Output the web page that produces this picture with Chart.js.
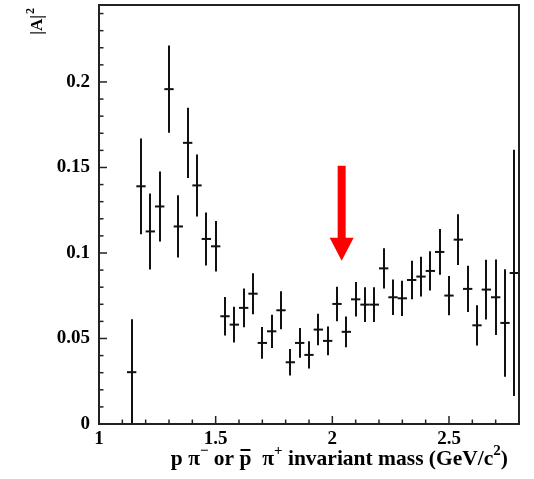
<!DOCTYPE html>
<html>
<head>
<meta charset="utf-8">
<title>|A|^2 vs p pi invariant mass</title>
<script src="https://cdn.jsdelivr.net/npm/chart.js@4.4.1/dist/chart.umd.min.js"></script>
<style>
  html, body { margin: 0; padding: 0; background: #fff; }
  canvas { display: block; }
</style>
</head>
<body>
<canvas id="chart" width="534" height="479"></canvas>
<script>
// bin centres (GeV/c^2), bin half width
const massBins = [1.14, 1.18, 1.22, 1.26, 1.30, 1.34, 1.38, 1.42, 1.46, 1.50,
                  1.54, 1.58, 1.62, 1.66, 1.70, 1.74, 1.78, 1.82, 1.86, 1.90,
                  1.94, 1.98, 2.02, 2.06, 2.10, 2.14, 2.18, 2.22, 2.26, 2.30,
                  2.34, 2.38, 2.42, 2.46, 2.50, 2.54, 2.58, 2.62, 2.66, 2.70,
                  2.74, 2.78];
const binHalfWidth = 0.02;

// |A|^2 and its error
const amp2 = [0.0303, 0.139, 0.1126, 0.1272, 0.1958, 0.1155, 0.1644, 0.1395, 0.1082, 0.1039,
              0.063, 0.0581, 0.0679, 0.0762, 0.0474, 0.0542, 0.0665, 0.0361, 0.0474, 0.0404,
              0.0552, 0.0486, 0.0702, 0.0539, 0.0729, 0.0698, 0.0698, 0.091, 0.0741, 0.0735,
              0.0842, 0.0862, 0.0895, 0.1006, 0.0751, 0.1078, 0.079, 0.0577, 0.0786, 0.0741,
              0.0591, 0.0883];
const amp2Err = [0.031, 0.028, 0.0222, 0.0205, 0.0255, 0.0182, 0.0205, 0.0181, 0.0155, 0.0148,
                 0.0112, 0.0105, 0.0114, 0.012, 0.0093, 0.0097, 0.0111, 0.0078, 0.0087, 0.008,
                 0.0092, 0.0084, 0.0101, 0.009, 0.0101, 0.0101, 0.0101, 0.0117, 0.0104, 0.0103,
                 0.0113, 0.0116, 0.0115, 0.0134, 0.0115, 0.0148, 0.0135, 0.0118, 0.0175, 0.0221,
                 0.0314, 0.072];

// axis ranges and labelled ticks
const xRange = [1, 2.8];
const yRange = [0, 0.245];
const xTickLabels = ['1', '1.5', '2', '2.5'];
const yTickLabels = ['0', '0.05', '0.1', '0.15', '0.2'];

// red arrow annotation
const arrowMass = 2.04;
const arrowFrom = 0.151;
const arrowTo = 0.0955;

const SERIF = '"Liberation Serif", "Times New Roman", serif';
const INK = '#111';

function fmtLabel(v, labels) {
    const s = String(Math.round(v * 1000) / 1000);
    return labels.includes(s) ? s : '';
}

// vertical error bars
const errorBarPlugin = {
    id: 'errorBars',
    beforeDatasetsDraw(chart) {
        const { ctx, chartArea, scales: { x, y } } = chart;
        ctx.save();
        ctx.beginPath();
        ctx.rect(chartArea.left, chartArea.top, chartArea.right - chartArea.left, chartArea.bottom - chartArea.top);
        ctx.clip();
        ctx.strokeStyle = INK;
        ctx.lineWidth = 2;
        massBins.forEach((m, i) => {
            const px = Math.round(x.getPixelForValue(m));
            ctx.beginPath();
            ctx.moveTo(px, y.getPixelForValue(amp2[i] + amp2Err[i]));
            ctx.lineTo(px, y.getPixelForValue(amp2[i] - amp2Err[i]));
            ctx.stroke();
        });
        ctx.restore();
    }
};

// frame, inward ticks, arrow and axis titles
const framePlugin = {
    id: 'frame',
    afterDatasetsDraw(chart) {
        const { ctx, chartArea: a, scales: { x, y } } = chart;
        ctx.save();
        ctx.strokeStyle = '#222';
        ctx.lineWidth = 1.5;
        x.ticks.forEach(t => {
            const px = x.getPixelForValue(t.value);
            const len = t.label ? 8 : 4.5;
            ctx.beginPath();
            ctx.moveTo(px, a.bottom);
            ctx.lineTo(px, a.bottom - len);
            ctx.stroke();
        });
        y.ticks.forEach(t => {
            const py = y.getPixelForValue(t.value);
            const len = t.label ? 8 : 4.5;
            ctx.beginPath();
            ctx.moveTo(a.left, py);
            ctx.lineTo(a.left + len, py);
            ctx.stroke();
        });
        ctx.lineWidth = 2;
        ctx.strokeRect(a.left, a.top, a.right - a.left, a.bottom - a.top);

        // arrow
        const ax = x.getPixelForValue(arrowMass);
        const aTop = y.getPixelForValue(arrowFrom);
        const aTip = y.getPixelForValue(arrowTo);
        const headLen = 23, headHalf = 12, shaftHalf = 4;
        ctx.fillStyle = '#ff0000';
        ctx.fillRect(ax - shaftHalf, aTop, shaftHalf * 2, aTip - headLen - aTop + 1);
        ctx.beginPath();
        ctx.moveTo(ax - headHalf, aTip - headLen);
        ctx.lineTo(ax + headHalf, aTip - headLen);
        ctx.lineTo(ax, aTip);
        ctx.closePath();
        ctx.fill();

        // x title with superscripts
        const bigFont = 'bold 21.5px ' + SERIF;
        const supFont = 'bold 15px ' + SERIF;
        const parts = [
            { t: 'p \u03c0', sup: false },
            { t: '\u2212', sup: true },
            { t: ' or ', sup: false },
            { t: 'p', sup: false, bar: true },
            { t: '  \u03c0', sup: false },
            { t: '+', sup: true },
            { t: ' invariant mass (GeV/c', sup: false },
            { t: '2', sup: true },
            { t: ')', sup: false }
        ];
        let total = 0;
        parts.forEach(p => {
            ctx.font = p.sup ? supFont : bigFont;
            p.w = ctx.measureText(p.t).width;
            total += p.w;
        });
        const baseY = 465;
        let cx = 508 - total;
        ctx.fillStyle = '#000';
        ctx.textBaseline = 'alphabetic';
        ctx.textAlign = 'left';
        parts.forEach(p => {
            ctx.font = p.sup ? supFont : bigFont;
            ctx.fillText(p.t, cx, p.sup ? baseY - 10 : baseY);
            if (p.bar) {
                ctx.fillRect(cx + 1, baseY - 16, p.w - 2, 2);
            }
            cx += p.w;
        });

        // y title, rotated
        ctx.translate(42, 8);
        ctx.rotate(-Math.PI / 2);
        ctx.textAlign = 'right';
        ctx.font = 'bold 12px ' + SERIF;
        const w2 = ctx.measureText('2').width;
        ctx.fillText('2', 0, -8);
        ctx.font = 'bold 17px ' + SERIF;
        ctx.fillText('|A|', -w2 - 1, 0);
        ctx.restore();
    }
};

const tickFont = { family: SERIF, size: 19, weight: 'bold' };

new Chart(document.getElementById('chart'), {
    type: 'scatter',
    data: {
        datasets: [{
            data: massBins.map((m, i) => ({ x: m, y: amp2[i] })),
            showLine: false,
            pointStyle: 'line',
            borderColor: INK,
            borderWidth: 2,
            pointRadius: ctx => {
                const s = ctx.chart.scales.x;
                return s.getPixelForValue(xRange[0] + binHalfWidth) - s.getPixelForValue(xRange[0]);
            }
        }]
    },
    options: {
        responsive: false,
        animation: false,
        events: [],
        layout: { padding: { left: 0, right: 15, top: 5, bottom: 0 } },
        plugins: { legend: { display: false }, tooltip: { enabled: false } },
        scales: {
            x: {
                type: 'linear',
                min: xRange[0],
                max: xRange[1],
                grid: { display: false, drawTicks: false },
                border: { display: false },
                afterFit: s => {
                    s.height = 55;
                    s.paddingLeft = 0;
                    s.paddingRight = 0;
                },
                ticks: {
                    stepSize: 0.1,
                    autoSkip: false,
                    includeBounds: false,
                    maxRotation: 0,
                    padding: 4,
                    color: '#000',
                    font: tickFont,
                    callback: v => fmtLabel(v, xTickLabels)
                }
            },
            y: {
                type: 'linear',
                min: yRange[0],
                max: yRange[1],
                grid: { display: false, drawTicks: false },
                border: { display: false },
                afterFit: s => {
                    s.width = 99;
                    s.paddingTop = 0;
                    s.paddingBottom = 0;
                },
                ticks: {
                    stepSize: 0.01,
                    autoSkip: false,
                    includeBounds: false,
                    padding: 9,
                    color: '#000',
                    font: tickFont,
                    callback: v => fmtLabel(v, yTickLabels)
                }
            }
        }
    },
    plugins: [errorBarPlugin, framePlugin]
});
</script>
</body>
</html>
